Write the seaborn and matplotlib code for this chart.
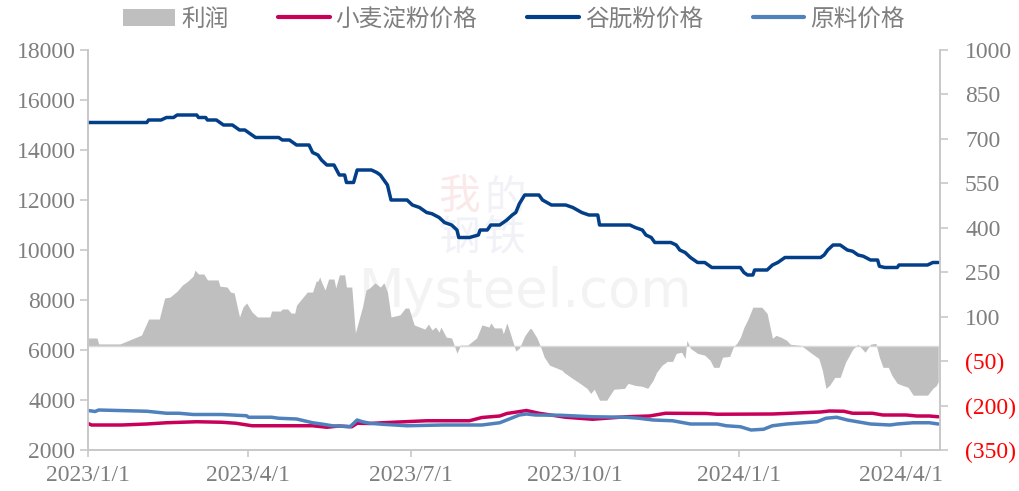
"""谷朊粉利润与价格走势图"""
import pandas as pd
import seaborn as sns
import matplotlib.pyplot as plt
from matplotlib.patches import Patch
from matplotlib.lines import Line2D

# 利润 (右轴, 元/吨)
profit_dates = [
    "2023-01-01", "2023-01-06", "2023-01-07", "2023-01-19", "2023-01-31", "2023-02-04", "2023-02-10",
    "2023-02-13", "2023-02-16", "2023-02-20", "2023-02-23", "2023-02-26", "2023-03-01", "2023-03-02",
    "2023-03-04", "2023-03-07", "2023-03-09", "2023-03-15", "2023-03-16", "2023-03-20", "2023-03-22",
    "2023-03-24", "2023-03-27", "2023-03-29", "2023-03-31", "2023-04-03", "2023-04-06", "2023-04-13",
    "2023-04-14", "2023-04-19", "2023-04-20", "2023-04-23", "2023-04-25", "2023-04-27", "2023-04-28",
    "2023-05-04", "2023-05-07", "2023-05-09", "2023-05-10", "2023-05-11", "2023-05-12", "2023-05-14",
    "2023-05-16", "2023-05-19", "2023-05-20", "2023-05-22", "2023-05-25", "2023-05-26", "2023-05-29",
    "2023-05-31", "2023-06-04", "2023-06-06", "2023-06-08", "2023-06-11", "2023-06-14", "2023-06-16",
    "2023-06-18", "2023-06-20", "2023-06-25", "2023-06-28", "2023-06-30", "2023-07-03", "2023-07-06",
    "2023-07-09", "2023-07-11", "2023-07-13", "2023-07-15", "2023-07-17", "2023-07-18", "2023-07-21",
    "2023-07-24", "2023-07-27", "2023-07-29", "2023-08-02", "2023-08-07", "2023-08-10", "2023-08-14",
    "2023-08-15", "2023-08-17", "2023-08-21", "2023-08-22", "2023-08-24", "2023-08-26", "2023-08-29",
    "2023-08-31", "2023-09-03", "2023-09-06", "2023-09-07", "2023-09-10", "2023-09-12", "2023-09-14",
    "2023-09-17", "2023-09-20", "2023-09-24", "2023-09-25", "2023-09-29", "2023-10-04", "2023-10-07",
    "2023-10-08", "2023-10-10", "2023-10-12", "2023-10-15", "2023-10-19", "2023-10-23", "2023-10-29",
    "2023-10-31", "2023-11-04", "2023-11-08", "2023-11-11", "2023-11-14", "2023-11-16", "2023-11-19",
    "2023-11-22", "2023-11-25", "2023-11-27", "2023-11-30", "2023-12-02", "2023-12-03", "2023-12-05",
    "2023-12-09", "2023-12-13", "2023-12-16", "2023-12-18", "2023-12-21", "2023-12-23", "2023-12-27",
    "2023-12-29", "2023-12-31", "2024-01-02", "2024-01-04", "2024-01-06", "2024-01-09", "2024-01-14",
    "2024-01-17", "2024-01-20", "2024-01-22", "2024-01-25", "2024-01-28", "2024-01-30", "2024-02-05",
    "2024-02-11", "2024-02-15", "2024-02-17", "2024-02-19", "2024-02-21", "2024-02-24", "2024-02-27",
    "2024-03-01", "2024-03-05", "2024-03-08", "2024-03-10", "2024-03-12", "2024-03-15", "2024-03-18",
    "2024-03-20", "2024-03-22", "2024-03-25", "2024-03-27", "2024-03-30", "2024-04-02", "2024-04-05",
    "2024-04-08", "2024-04-16", "2024-04-19", "2024-04-21", "2024-04-22",
]
profit = [
    28, 28, 8, 8, 38, 92, 92,
    163, 166, 186, 207, 220, 237, 257,
    244, 244, 224, 224, 203, 200, 183,
    180, 99, 133, 146, 116, 99, 99,
    119, 119, 126, 126, 112, 112, 139,
    183, 183, 220, 220, 234, 217, 190,
    227, 227, 197, 241, 241, 200, 200,
    45, 133, 190, 197, 214, 200, 214,
    183, 99, 106, 129, 129, 72, 65,
    58, 75, 55, 65, 48, 65, 31,
    28, -23, 4, 4, 28, 72, 65,
    79, 62, 62, 42, 79, 42, -16,
    -6, 35, 61, 57, 27, -3, -37,
    -64, -71, -81, -88, -105, -125, -138,
    -142, -159, -145, -182, -182, -145, -142,
    -125, -132, -135, -142, -115, -88, -64,
    -51, -51, -24, -20, -41, 20, -7,
    -24, -30, -47, -71, -71, -37, -34,
    -3, 10, 30, 64, 88, 132, 132,
    111, 27, 37, 30, 20, 7, 3,
    -24, -41, -81, -142, -132, -105, -105,
    -54, -10, 7, -7, -20, 7, 10,
    -37, -71, -71, -98, -125, -132, -138,
    -165, -165, -142, -132, -120,
]

# 谷朊粉价格 (左轴)
gluten_dates = [
    "2023-01-01", "2023-02-03", "2023-02-04", "2023-02-11", "2023-02-14", "2023-02-18", "2023-02-20",
    "2023-03-03", "2023-03-04", "2023-03-08", "2023-03-09", "2023-03-14", "2023-03-16", "2023-03-18",
    "2023-03-23", "2023-03-25", "2023-03-27", "2023-03-30", "2023-04-01", "2023-04-05", "2023-04-18",
    "2023-04-20", "2023-04-24", "2023-04-28", "2023-05-05", "2023-05-07", "2023-05-10", "2023-05-12",
    "2023-05-15", "2023-05-19", "2023-05-22", "2023-05-25", "2023-05-26", "2023-05-30", "2023-06-01",
    "2023-06-09", "2023-06-12", "2023-06-14", "2023-06-16", "2023-06-18", "2023-06-20", "2023-06-29",
    "2023-07-02", "2023-07-06", "2023-07-10", "2023-07-13", "2023-07-17", "2023-07-20", "2023-07-24",
    "2023-07-27", "2023-07-28", "2023-08-03", "2023-08-08", "2023-08-09", "2023-08-13", "2023-08-15",
    "2023-08-20", "2023-08-24", "2023-08-27", "2023-08-29", "2023-08-31", "2023-09-03", "2023-09-11",
    "2023-09-13", "2023-09-18", "2023-09-26", "2023-09-30", "2023-10-05", "2023-10-09", "2023-10-14",
    "2023-10-15", "2023-11-01", "2023-11-04", "2023-11-08", "2023-11-10", "2023-11-13", "2023-11-15",
    "2023-11-24", "2023-11-27", "2023-11-29", "2023-12-02", "2023-12-05", "2023-12-09", "2023-12-13",
    "2023-12-17", "2024-01-02", "2024-01-04", "2024-01-06", "2024-01-09", "2024-01-10", "2024-01-17",
    "2024-01-20", "2024-01-23", "2024-01-27", "2024-02-16", "2024-02-18", "2024-02-20", "2024-02-23",
    "2024-02-27", "2024-03-02", "2024-03-05", "2024-03-08", "2024-03-11", "2024-03-15", "2024-03-19",
    "2024-03-20", "2024-03-23", "2024-03-30", "2024-03-31", "2024-04-16", "2024-04-19", "2024-04-22",
]
gluten = [
    15100, 15100, 15200, 15200, 15300, 15300, 15400,
    15400, 15300, 15300, 15200, 15200, 15100, 15000,
    15000, 14900, 14800, 14800, 14700, 14500, 14500,
    14400, 14400, 14200, 14200, 13900, 13800, 13600,
    13400, 13400, 13000, 13000, 12700, 12700, 13200,
    13200, 13100, 13000, 12800, 12600, 12000, 12000,
    11800, 11700, 11500, 11450, 11300, 11100, 11000,
    10800, 10500, 10500, 10600, 10800, 10800, 11000,
    11000, 11200, 11400, 11500, 11850, 12200, 12200,
    12000, 11800, 11800, 11700, 11500, 11400, 11400,
    11000, 11000, 10900, 10800, 10600, 10500, 10300,
    10300, 10200, 10000, 9900, 9700, 9500, 9500,
    9300, 9300, 9100, 9000, 9000, 9200, 9200,
    9400, 9500, 9700, 9700, 9800, 10000, 10200,
    10200, 10000, 9950, 9800, 9750, 9600, 9600,
    9350, 9300, 9300, 9400, 9400, 9500, 9500,
]

# 小麦淀粉价格 (左轴)
starch_dates = [
    "2023-01-01", "2023-01-03", "2023-01-20", "2023-02-03", "2023-02-14", "2023-03-03", "2023-03-17",
    "2023-03-25", "2023-04-03", "2023-05-07", "2023-05-15", "2023-05-22", "2023-05-29", "2023-06-01",
    "2023-06-08", "2023-06-15", "2023-07-10", "2023-08-03", "2023-08-10", "2023-08-20", "2023-08-24",
    "2023-09-04", "2023-09-11", "2023-09-26", "2023-10-11", "2023-10-30", "2023-11-12", "2023-11-21",
    "2023-12-14", "2023-12-20", "2024-01-20", "2024-02-16", "2024-02-21", "2024-02-29", "2024-03-05",
    "2024-03-16", "2024-03-22", "2024-04-04", "2024-04-10", "2024-04-17", "2024-04-22",
]
starch = [
    3060, 3000, 3000, 3040, 3090, 3130, 3110,
    3070, 2970, 2970, 2910, 2960, 2930, 3070,
    3060, 3090, 3170, 3170, 3300, 3360, 3460,
    3580, 3470, 3310, 3230, 3330, 3360, 3470,
    3460, 3430, 3440, 3520, 3560, 3550, 3470,
    3470, 3400, 3400, 3360, 3360, 3330,
]

# 原料价格 (左轴)
raw_dates = [
    "2023-01-01", "2023-01-05", "2023-01-07", "2023-02-03", "2023-02-14", "2023-02-21", "2023-03-01",
    "2023-03-17", "2023-03-31", "2023-04-01", "2023-04-14", "2023-04-18", "2023-04-28", "2023-05-07",
    "2023-05-12", "2023-05-18", "2023-05-28", "2023-06-01", "2023-06-04", "2023-06-08", "2023-06-15",
    "2023-06-29", "2023-07-19", "2023-08-10", "2023-08-20", "2023-08-25", "2023-08-31", "2023-09-04",
    "2023-09-09", "2023-09-23", "2023-10-11", "2023-10-30", "2023-11-06", "2023-11-14", "2023-11-25",
    "2023-12-05", "2023-12-20", "2023-12-25", "2024-01-02", "2024-01-08", "2024-01-15", "2024-01-20",
    "2024-01-28", "2024-02-14", "2024-02-19", "2024-02-25", "2024-03-02", "2024-03-15", "2024-03-26",
    "2024-03-30", "2024-04-08", "2024-04-17", "2024-04-22",
]
raw = [
    3580, 3540, 3600, 3550, 3470, 3470, 3420,
    3420, 3370, 3310, 3310, 3270, 3240, 3090,
    3040, 2970, 2930, 3200, 3130, 3070, 3030,
    2970, 3000, 3000, 3090, 3230, 3400, 3440,
    3400, 3390, 3330, 3310, 3270, 3200, 3170,
    3040, 3040, 2970, 2930, 2800, 2830, 2970,
    3040, 3130, 3270, 3310, 3200, 3040, 3000,
    3040, 3090, 3090, 3040,
]

series_names = ["小麦淀粉价格", "谷朊粉价格", "原料价格"]
series_colors = {"小麦淀粉价格": "#C8005A", "谷朊粉价格": "#023F88", "原料价格": "#4F81BD"}
profit_color = "#BFBFBF"

tick_dates = ["2023-01-01", "2023-04-01", "2023-07-01", "2023-10-01", "2024-01-01", "2024-04-01"]
tick_labels = ["2023/1/1", "2023/4/1", "2023/7/1", "2023/10/1", "2024/1/1", "2024/4/1"]

GRAY_TXT = "#7F7F7F"
SPINE = "#C8C8C8"

sns.set_style("white")
plt.rcParams["font.family"] = ["Liberation Serif", "Noto Sans CJK SC"]

# 长表, 方便 seaborn 按 hue 画线
frames = []
for name, d, v in [("小麦淀粉价格", starch_dates, starch),
                   ("谷朊粉价格", gluten_dates, gluten),
                   ("原料价格", raw_dates, raw)]:
    frames.append(pd.DataFrame({"date": pd.to_datetime(d), "price": v, "series": name}))
prices = pd.concat(frames, ignore_index=True)

fig = plt.figure(figsize=(10.2, 4.91), dpi=100)
ax = fig.add_axes([88 / 1020, 41 / 491, 852 / 1020, 400 / 491])
ax2 = ax.twinx()

# 水印
fig.text(0.515, 0.405, "Mysteel.com", fontsize=38, color="#F3F3F3", ha="center", va="center",
         family="DejaVu Sans", zorder=-1)
fig.text(0.45, 0.595, "我", fontsize=30, color="#FBE9E9", ha="center", va="center",
         family="Noto Sans CJK SC", zorder=-1)
fig.text(0.495, 0.595, "的", fontsize=30, color="#F0F2F7", ha="center", va="center",
         family="Noto Sans CJK SC", zorder=-1)
fig.text(0.45, 0.515, "钢", fontsize=30, color="#F0F2F7", ha="center", va="center",
         family="Noto Sans CJK SC", zorder=-1)
fig.text(0.495, 0.515, "铁", fontsize=30, color="#F0F2F7", ha="center", va="center",
         family="Noto Sans CJK SC", zorder=-1)

# 利润面积 (右轴)
ax2.fill_between(pd.to_datetime(profit_dates), profit, 0, color=profit_color, lw=0)
ax2.axhline(0, color="#D9D9D9", lw=1)

ax.set_zorder(ax2.get_zorder() + 1)
ax.patch.set_visible(False)

sns.lineplot(data=prices, x="date", y="price", hue="series", hue_order=series_names,
             palette=series_colors, linewidth=2.5, legend=False, ax=ax)

ax.set_xlim(pd.Timestamp("2023-01-01"), pd.Timestamp("2024-04-23"))
ax.set_ylim(2000, 18000)
ax.set_yticks(range(2000, 18001, 2000))
ax.set_xticks(pd.to_datetime(tick_dates))
ax.set_xticklabels(tick_labels)
ax.set_xlabel("")
ax.set_ylabel("")

right_ticks = list(range(-350, 1001, 150))
ax2.set_ylim(-350, 1000)
ax2.set_yticks(right_ticks)
ax2.set_yticklabels([f"({-v})" if v < 0 else str(v) for v in right_ticks])
for lbl, v in zip(ax2.get_yticklabels(), right_ticks):
    lbl.set_color("red" if v < 0 else GRAY_TXT)

for a in (ax, ax2):
    a.spines["top"].set_visible(False)
    for s in ("left", "right", "bottom"):
        a.spines[s].set_color(SPINE)
        a.spines[s].set_linewidth(1.2)
    a.grid(False)

ax.tick_params(axis="y", left=True, length=6, width=1.2, color=SPINE, labelcolor=GRAY_TXT,
               labelsize=17, pad=3)
ax.tick_params(axis="x", bottom=True, length=5, width=1.2, color=SPINE, labelcolor=GRAY_TXT,
               labelsize=17, pad=6)
ax2.tick_params(axis="y", right=True, length=6, width=1.2, color=SPINE, labelsize=17, pad=12)

handles = [Patch(facecolor=profit_color, edgecolor="none")]
handles += [Line2D([0], [0], color=series_colors[n], lw=3) for n in series_names]
ax.legend(handles, ["利润"] + series_names, loc="center", bbox_to_anchor=(0.5, 1.077), ncol=4,
          frameon=False, handlelength=2.2, handletextpad=0.25, columnspacing=2.1,
          labelcolor=GRAY_TXT, prop={"family": "Noto Sans CJK SC", "size": 17, "weight": "light"})

fig.savefig("out.png", dpi=100)
